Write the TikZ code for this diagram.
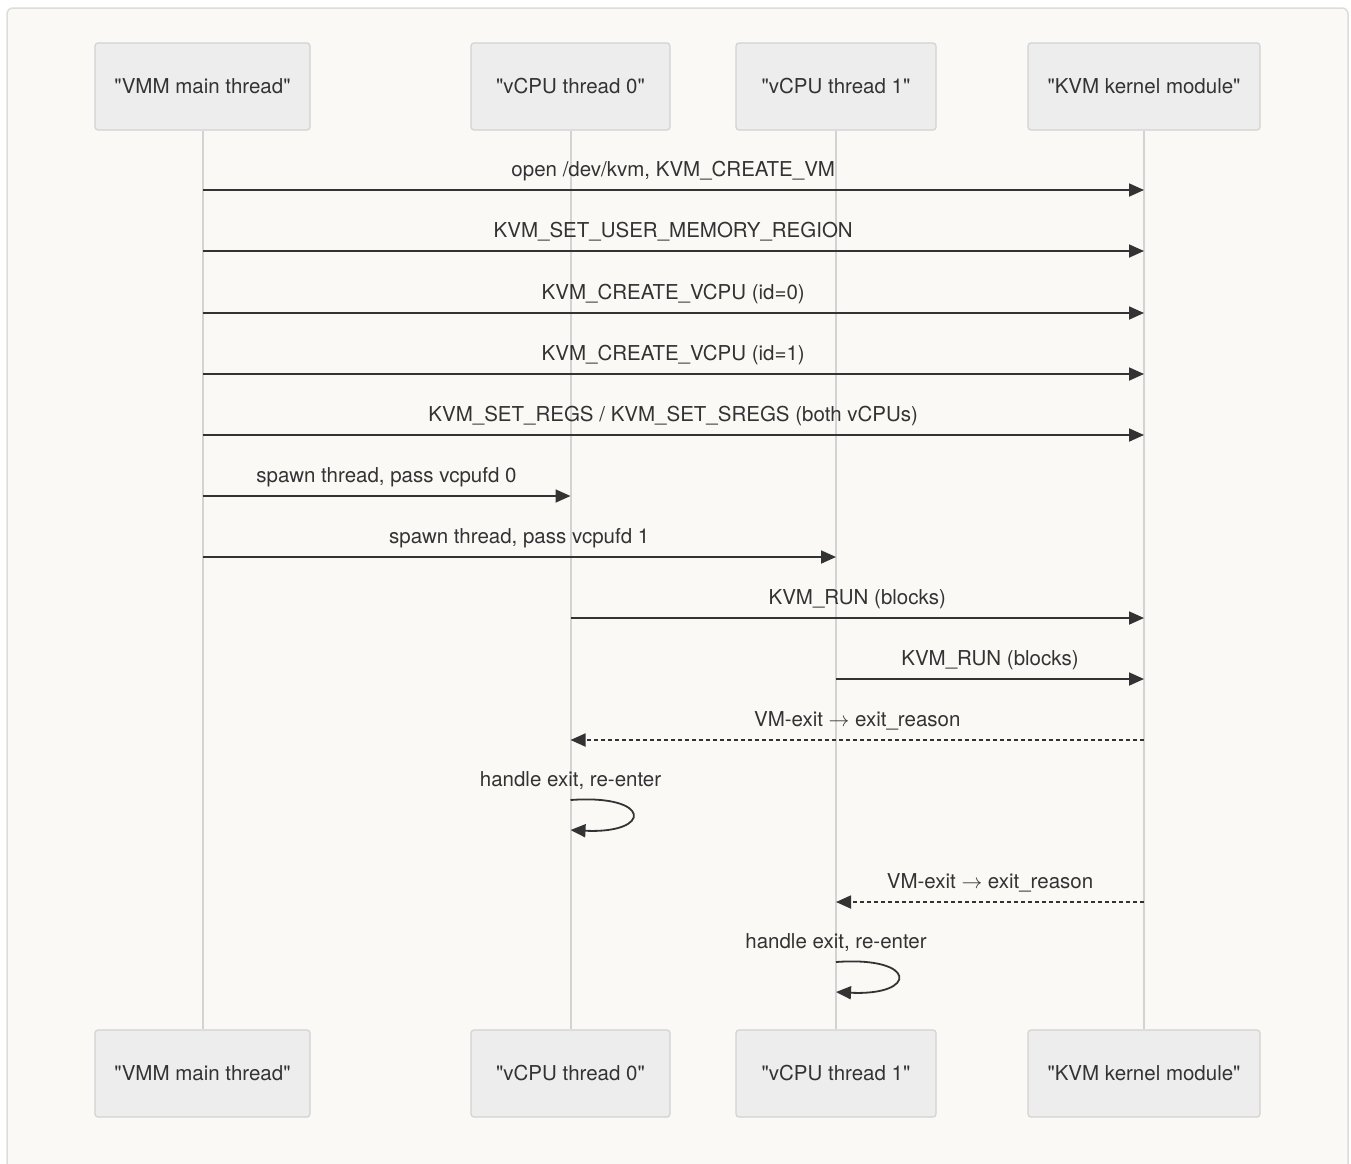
\documentclass[tikz,border=0pt]{standalone}
\usepackage{fontspec}
\setmainfont{TeX Gyre Heros}[Ligatures=TeXOff]
\usetikzlibrary{arrows.meta}
\definecolor{pagebg}{HTML}{FAF9F6}
\definecolor{framec}{HTML}{DDDCD6}
\definecolor{boxfill}{HTML}{EDEDED}
\definecolor{boxline}{HTML}{D2D2D2}
\definecolor{lifec}{HTML}{D3D3D3}
\definecolor{ink}{HTML}{333333}
\newcommand{\rarr}{$\rightarrow$}
\begin{document}
\begin{tikzpicture}[x=1pt,y=-1pt,
  actor/.style={draw=boxline,fill=boxfill,line width=1.2pt,rounded corners=3pt,
    minimum height=87pt,inner sep=0pt,text=ink,font=\fontsize{20.5}{24}\selectfont},
  life/.style={draw=lifec,line width=2pt},
  msg/.style={draw=ink,line width=1.8pt,-{Triangle[length=15pt,width=13pt]}},
  reply/.style={msg,dash pattern=on 4pt off 3pt},
  lbl/.style={text=ink,font=\fontsize{20.5}{24}\selectfont,inner sep=0pt,anchor=base,yshift=14pt}]
% page and frame
\useasboundingbox (0,0) rectangle (1351,1163);
\fill[white] (0,0) rectangle (1351,1163);
\draw[framec,fill=pagebg,line width=1.5pt,rounded corners=6pt] (7,8) rectangle (1348,1190);
% participants (top and bottom)
\node[actor,minimum width=215pt] (vmmT) at (202.5,86.5) {"VMM main thread"};
\node[actor,minimum width=199pt] (c0T) at (570.5,86.5) {"vCPU thread 0"};
\node[actor,minimum width=200pt] (c1T) at (836,86.5) {"vCPU thread 1"};
\node[actor,minimum width=232pt] (kvmT) at (1144,86.5) {"KVM kernel module"};
\node[actor,minimum width=215pt] (vmmB) at (202.5,1073.5) {"VMM main thread"};
\node[actor,minimum width=199pt] (c0B) at (570.5,1073.5) {"vCPU thread 0"};
\node[actor,minimum width=200pt] (c1B) at (836,1073.5) {"vCPU thread 1"};
\node[actor,minimum width=232pt] (kvmB) at (1144,1073.5) {"KVM kernel module"};
% lifelines
\draw[life] (vmmT.south) -- (vmmB.north);
\draw[life] (c0T.south) -- (c0B.north);
\draw[life] (c1T.south) -- (c1B.north);
\draw[life] (kvmT.south) -- (kvmB.north);
% message rows
\foreach \n/\y in {1/190,2/251,3/313,4/374,5/435,6/496,7/557,8/618,9/679,10/740,11/800,12/902,13/962}
  \coordinate (r\n) at (0,\y);
% calls
\draw[msg] (vmmT |- r1) -- node[lbl] (t1) {open /dev/kvm, KVM\_CREATE\_VM} (kvmT |- r1);
\draw[msg] (vmmT |- r2) -- node[lbl] (t2) {KVM\_SET\_USER\_MEMORY\_REGION} (kvmT |- r2);
\draw[msg] (vmmT |- r3) -- node[lbl] (t3) {KVM\_CREATE\_VCPU (id=0)} (kvmT |- r3);
\draw[msg] (vmmT |- r4) -- node[lbl] (t4) {KVM\_CREATE\_VCPU (id=1)} (kvmT |- r4);
\draw[msg] (vmmT |- r5) -- node[lbl] (t5) {KVM\_SET\_REGS / KVM\_SET\_SREGS (both vCPUs)} (kvmT |- r5);
\draw[msg] (vmmT |- r6) -- node[lbl] (t6) {spawn thread, pass vcpufd 0} (c0T |- r6);
\draw[msg] (vmmT |- r7) -- node[lbl] (t7) {spawn thread, pass vcpufd 1} (c1T |- r7);
\draw[msg] (c0T |- r8) -- node[lbl] (t8) {KVM\_RUN (blocks)} (kvmT |- r8);
\draw[msg] (c1T |- r9) -- node[lbl] (t9) {KVM\_RUN (blocks)} (kvmT |- r9);
% VM exits and self handling
\draw[reply] (kvmT |- r10) -- node[lbl] (t10) {VM-exit \rarr{} exit\_reason} (c0T |- r10);
\coordinate (l1a) at (c0T |- r11);
\coordinate (l1b) at ([yshift=-30pt]l1a);
\node[lbl] (t11) at (l1a) {handle exit, re-enter};
\draw[msg] (l1a) .. controls ([xshift=82pt,yshift=6pt]l1a) and ([xshift=82pt,yshift=-34pt]l1a) .. (l1b);
\draw[reply] (kvmT |- r12) -- node[lbl] (t12) {VM-exit \rarr{} exit\_reason} (c1T |- r12);
\coordinate (l2a) at (c1T |- r13);
\coordinate (l2b) at ([yshift=-30pt]l2a);
\node[lbl] (t13) at (l2a) {handle exit, re-enter};
\draw[msg] (l2a) .. controls ([xshift=82pt,yshift=6pt]l2a) and ([xshift=82pt,yshift=-34pt]l2a) .. (l2b);
\end{tikzpicture}
\end{document}
